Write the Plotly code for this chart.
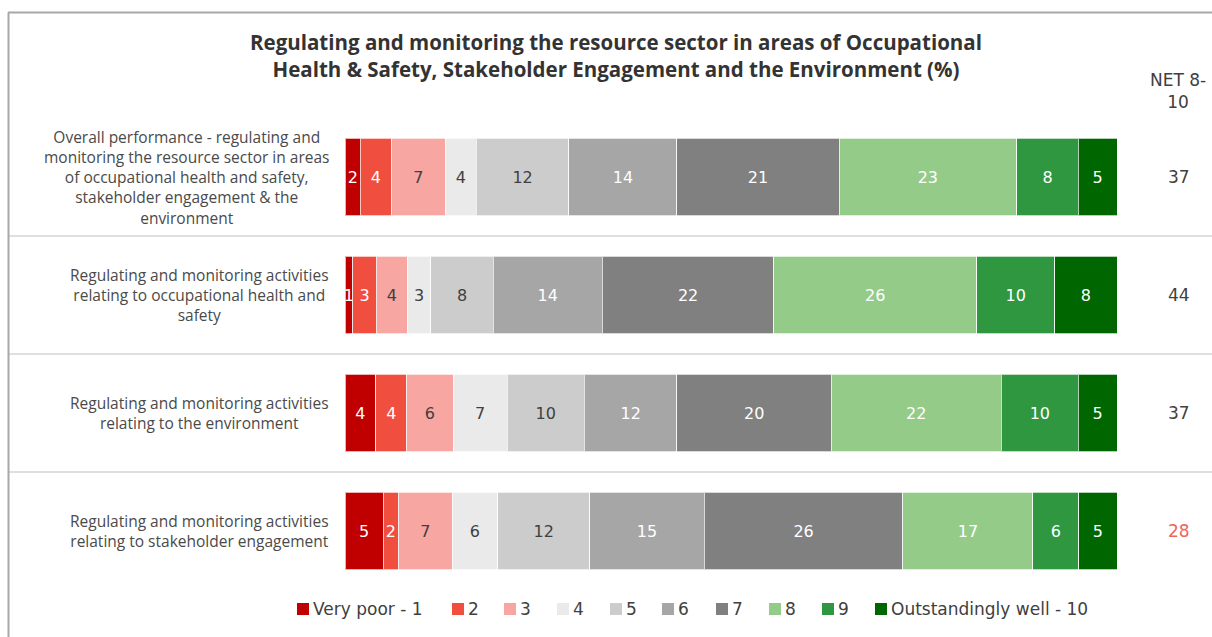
import plotly.graph_objects as go

# Survey rows (top to bottom)
row_labels = [
    "Overall performance - regulating and<br>monitoring the resource sector in areas<br>of occupational health and safety,<br>stakeholder engagement & the<br>environment",
    "Regulating and monitoring activities<br>relating to occupational health and<br>safety",
    "Regulating and monitoring activities<br>relating to the environment",
    "Regulating and monitoring activities<br>relating to stakeholder engagement",
]

# Rating scale 1..10
rating_names = ["Very poor - 1", "2", "3", "4", "5", "6", "7", "8", "9", "Outstandingly well - 10"]
rating_colors = ["#C00000", "#F04E3E", "#F7A6A1", "#EAEAEA", "#CCCCCC",
                 "#A6A6A6", "#808080", "#95CB89", "#2E973F", "#006600"]
rating_text_colors = ["white", "white", "#404040", "#404040", "#404040",
                      "white", "white", "white", "white", "white"]

# Percentage of respondents per rating, one list per row
overall = [2, 4, 7, 4, 12, 14, 21, 23, 8, 5]
health_safety = [1, 3, 4, 3, 8, 14, 22, 26, 10, 8]
environment = [4, 4, 6, 7, 10, 12, 20, 22, 10, 5]
stakeholder = [5, 2, 7, 6, 12, 15, 26, 17, 6, 5]
rows = [overall, health_safety, environment, stakeholder]

# NET 8-10 per row
net_8_10 = [37, 44, 37, 28]
net_colors = ["#404040", "#404040", "#404040", "#F0645A"]

W, H = 1212, 637
L, R, T, B = 345, 95, 118, 47
pw, ph = W - L - R, H - T - B

# key layout: left edge (px) of each swatch along the bottom row
key_left = [297, 452, 504, 557, 610, 662, 716, 769, 822, 875]
key_y = 609
key_size = 12


def px_x(x):
    return (x - L) / pw


def px_y(y):
    return (H - B - y) / ph


y_pos = list(range(len(rows)))

fig = go.Figure()
for k, name in enumerate(rating_names):
    vals = [r[k] for r in rows]
    fig.add_trace(go.Bar(
        y=y_pos, x=vals, orientation="h", name=name,
        marker=dict(color=rating_colors[k], line=dict(color="rgba(255,255,255,0.7)", width=1)),
        text=[str(v) for v in vals], textposition="inside", insidetextanchor="middle",
        textangle=0,
        textfont=dict(family="DejaVu Sans", size=16, color=rating_text_colors[k]),
        hoverinfo="x+name",
    ))

annotations = []
for i, lab in enumerate(row_labels):
    annotations.append(dict(
        x=px_x(331), y=i, xref="paper", yref="y", text=lab, showarrow=False,
        xanchor="right", yanchor="middle", align="center",
        font=dict(family="Open Sans", size=15.5, color="#4A4A4A"),
    ))
    annotations.append(dict(
        x=px_x(1179), y=i, xref="paper", yref="y", text=str(net_8_10[i]), showarrow=False,
        xanchor="center", yanchor="middle",
        font=dict(family="DejaVu Sans", size=17, color=net_colors[i]),
    ))

annotations.append(dict(
    x=px_x(1178), y=px_y(91), xref="paper", yref="paper", text="NET 8-<br>10",
    showarrow=False, xanchor="center", yanchor="middle", align="center",
    font=dict(family="DejaVu Sans", size=17, color="#404040"),
))

shapes = []
for yy in (0.5, 1.5, 2.5):
    shapes.append(dict(type="line", xref="paper", yref="y", x0=px_x(9), x1=px_x(1215),
                       y0=yy, y1=yy, line=dict(color="#D4D4D4", width=1.5)))
# frame
shapes.append(dict(type="line", xref="paper", yref="paper", x0=px_x(8), x1=px_x(1215),
                   y0=px_y(12.5), y1=px_y(12.5), line=dict(color="#A8A8A8", width=2)))
shapes.append(dict(type="line", xref="paper", yref="paper", x0=px_x(8.5), x1=px_x(8.5),
                   y0=px_y(12.5), y1=px_y(640), line=dict(color="#A8A8A8", width=2)))

# key along the bottom
for k, name in enumerate(rating_names):
    x0 = key_left[k]
    shapes.append(dict(type="rect", xref="paper", yref="paper",
                       x0=px_x(x0), x1=px_x(x0 + key_size),
                       y0=px_y(key_y + key_size / 2), y1=px_y(key_y - key_size / 2),
                       fillcolor=rating_colors[k], line=dict(width=0)))
    annotations.append(dict(
        x=px_x(x0 + key_size + 2), y=px_y(key_y), xref="paper", yref="paper",
        text=name, showarrow=False, xanchor="left", yanchor="middle",
        font=dict(family="DejaVu Sans", size=17, color="#404040"),
    ))

fig.update_layout(
    width=W, height=H,
    margin=dict(l=L, r=R, t=T, b=B),
    paper_bgcolor="white", plot_bgcolor="white",
    barmode="stack", barnorm="percent", bargap=0.345,
    title=dict(
        text="<b>Regulating and monitoring the resource sector in areas of Occupational<br>Health & Safety, Stakeholder Engagement and the Environment (%)</b>",
        x=616 / W, xanchor="center", y=1 - 50 / H, yanchor="middle",
        font=dict(family="Open Sans", size=20.5, color="#333333"),
    ),
    xaxis=dict(range=[0, 100], visible=False, fixedrange=True),
    yaxis=dict(range=[3.5, -0.5], visible=False, fixedrange=True),
    uniformtext=dict(minsize=16, mode="show"),
    annotations=annotations,
    shapes=shapes,
    showlegend=False,
)

fig.write_html("out.html")
